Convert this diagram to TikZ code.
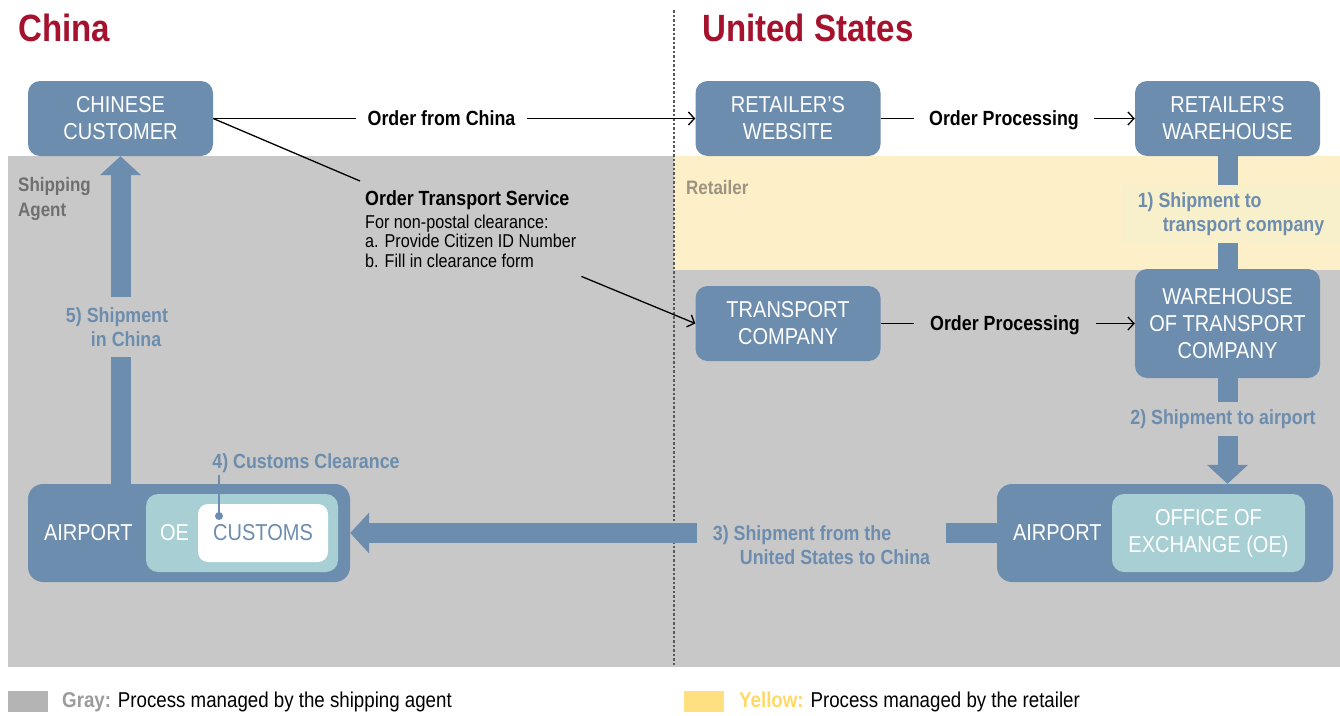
\documentclass[tikz,border=0pt]{standalone}
\usepackage{fontspec}
\setmainfont{Liberation Sans}[FakeStretch=0.87]
\usetikzlibrary{arrows.meta,positioning}
\definecolor{boxblue}{HTML}{6D8DAE}
\definecolor{oeteal}{HTML}{A8CFD3}
\definecolor{agentgray}{HTML}{C8C8C8}
\definecolor{retailyellow}{HTML}{FDF0C9}
\definecolor{labelyellow}{HTML}{F8EFCB}
\definecolor{titlered}{HTML}{A4122D}
\definecolor{agenttext}{HTML}{6F6F6F}
\definecolor{retailtext}{HTML}{9C9480}
\definecolor{keygray}{HTML}{B4B4B4}
\definecolor{keyyellow}{HTML}{FFDF80}
\definecolor{keygraytext}{HTML}{9B9B9B}
\definecolor{keyyellowtext}{HTML}{FFD966}

\newcommand{\boxfont}{\fontsize{23}{27}\selectfont}
\newcommand{\flowfont}{\bfseries\fontsize{20.5}{24}\selectfont}
\newcommand{\notefont}{\fontsize{18.6}{19.5}\selectfont}

\tikzset{
  procbox/.style={fill=boxblue, text=white, font=\boxfont, rounded corners=12pt,
    align=center, inner sep=0pt, minimum width=185pt, minimum height=75pt},
  oebox/.style={procbox, fill=oeteal, minimum width=193pt, minimum height=78pt},
  customsbox/.style={procbox, fill=white, text=boxblue, rounded corners=10pt,
    minimum width=130pt, minimum height=58pt},
  flowtext/.style={font=\flowfont, text height=14.7pt, text depth=0pt, inner ysep=2pt},
  steplabel/.style={font=\flowfont, text=boxblue, align=left, inner sep=0pt},
  arealabel/.style={font=\bfseries\fontsize{19.5}{25}\selectfont, align=left, inner sep=0pt},
  title/.style={font=\bfseries\fontsize{38}{40}\selectfont, text=titlered, inner sep=0pt},
  keytext/.style={font=\fontsize{21.5}{24}\selectfont, inner sep=0pt},
  link/.style={line width=1.3pt},
  linkarrow/.style={link, -{Straight Barb[length=6pt,width=13pt]}},
  shipbar/.style={draw=boxblue, line width=20pt},
  shiparrow/.style={shipbar, -{Triangle[length=19pt,width=40pt]}}
}

\begin{document}
\begin{tikzpicture}[x=1pt,y=-1pt]
\useasboundingbox (0,0) rectangle (1340,715);

% areas
\fill[agentgray] (8,156) rectangle (1340,667);
\fill[retailyellow] (674,156) rectangle (1340,270);
\draw[black!65, line width=1.2pt, dash pattern=on 2.5pt off 2pt] (674,10) -- (674,665);

\node[title, anchor=base west] (china) at (18,41) {China};
\node[title, anchor=base west] (usa) at (702,41) {United States};
\node[arealabel, text=agenttext, anchor=north west] (agent) at (18,177) {Shipping\\Agent};
\node[arealabel, text=retailtext, anchor=west] (retailer) at (686,188) {Retailer};

% process boxes
\node[procbox] (customer) at (120.5,118.5) {CHINESE\\CUSTOMER};
\node[procbox] (website) at (788,118.5) {RETAILER’S\\WEBSITE};
\node[procbox] (retwarehouse) at (1227.5,118.5) {RETAILER’S\\WAREHOUSE};
\node[procbox] (transport) at (788,323.5) {TRANSPORT\\COMPANY};
\node[procbox, minimum height=109pt] (tcwarehouse) at (1227.5,323.5) {WAREHOUSE\\OF TRANSPORT\\COMPANY};

% airports
\node[procbox, rounded corners=15pt, minimum height=98pt, text width=304pt,
  align=left, inner xsep=16pt] (usairport) at (1165,533) {AIRPORT};
\node[oebox] (usoe) at (1208.5,533) {OFFICE OF\\EXCHANGE (OE)};
\node[procbox, rounded corners=15pt, minimum height=98pt, text width=290pt,
  align=left, inner xsep=16pt] (cnairport) at (189,533) {AIRPORT};
\node[oebox, minimum width=192pt, text width=164pt, align=left, inner xsep=14pt] (cnoe) at (242,533) {OE};
\node[customsbox] (customs) at (263,533) {CUSTOMS};

% ordering
\node[flowtext, inner xsep=11.5pt] (ofc) at (441.5,118.5) {Order from China};
\draw[link] (customer.east) -- (ofc.west);
\draw[linkarrow] (ofc.east) -- (website.west);
\node[flowtext, inner xsep=15pt] (op1) at (1004,118.5) {Order Processing};
\draw[link] (website.east) -- (op1.west);
\draw[linkarrow] (op1.east) -- (retwarehouse.west);
\node[flowtext, inner xsep=16pt] (op2) at (1005,323.5) {Order Processing};
\draw[link] (transport.east) -- (op2.west);
\draw[linkarrow] (op2.east) -- (tcwarehouse.west);

\node[font=\notefont, align=left, anchor=north west, inner xsep=5pt, inner ysep=9pt] (ots) at (360,181)
  {{\flowfont Order Transport Service}\\[3.5pt]For non-postal clearance:\\a. Provide Citizen ID Number\\b. Fill in clearance form};
\draw[link] (customer.east) -- (ots.north west);
\draw[linkarrow] (ots.south east) -- (transport.west);

% shipments
\node[steplabel, fill=labelyellow, minimum width=218pt, minimum height=58pt] (ship1) at (1231,214)
  {1) Shipment to\\\hspace*{25pt}transport company};
\draw[shipbar] (retwarehouse.south) -- (retwarehouse.south |- ship1.north);
\draw[shipbar] (retwarehouse.south |- ship1.south) -- (tcwarehouse.north);

\node[steplabel, minimum height=33pt] (ship2) at (1223,419) {2) Shipment to airport};
\draw[shipbar] (tcwarehouse.south) -- (tcwarehouse.south |- ship2.north);
\draw[shiparrow] (tcwarehouse.south |- ship2.south) -- (tcwarehouse.south |- usairport.north);

\node[steplabel, minimum width=249pt] (ship3) at (821.5,545) {3) Shipment from the\\\hspace*{27pt}United States to China};
\draw[shipbar] (usairport.west) -- (usairport.west -| ship3.east);
\draw[shiparrow] (usairport.west -| ship3.west) -- (cnairport.east);

\node[steplabel, inner ysep=2pt] (ship4) at (306,463) {4) Customs Clearance};
\coordinate (clearpt) at (219,516);
\draw[boxblue, line width=1.5pt] (ship4.south -| clearpt) -- (clearpt);
\fill[boxblue] (clearpt) circle (4pt);

\node[steplabel, minimum height=60pt] (ship5) at (117,327) {5) Shipment\\\hspace*{25pt}in China};
\draw[shipbar] (customer.south |- cnairport.north) -- (customer.south |- ship5.south);
\draw[shiparrow] (customer.south |- ship5.north) -- (customer.south);

% key
\fill[keygray] (8,691) rectangle (48,712);
\node[keytext, anchor=west] (graykey) at (62,702) {\textcolor{keygraytext}{\bfseries Gray:} Process managed by the shipping agent};
\fill[keyyellow] (684,691) rectangle (724,712);
\node[keytext, anchor=west] (yellowkey) at (739,702) {\textcolor{keyyellowtext}{\bfseries Yellow:} Process managed by the retailer};
\end{tikzpicture}
\end{document}
